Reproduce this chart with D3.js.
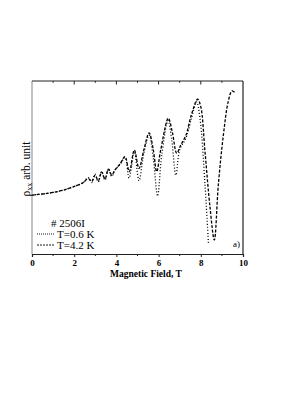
<!DOCTYPE html>
<html>
<head>
<meta charset="utf-8">
<script src="https://cdn.jsdelivr.net/npm/d3@7"></script>
<style>
  body { margin: 0; background: #fff; }
  text { font-family: "Liberation Serif", "DejaVu Serif", serif; fill: #000; }
</style>
</head>
<body>
<script>
// data (field in T, rho_xx in arb. units 0..100)
var fieldHot = [0, 0.5, 1.0, 1.5, 2.0, 2.4, 2.67, 2.83, 2.99, 3.14, 3.30, 3.46, 3.62, 3.78, 3.93, 4.17, 4.41, 4.61, 4.85, 5.07, 5.30, 5.55, 5.75, 5.91, 6.1, 6.46, 6.65, 6.86, 7.05, 7.3, 7.55, 7.85, 8.0, 8.2, 8.44, 8.64, 8.83, 9.07, 9.30, 9.48, 9.65];
var rhoHot = [33.7, 34.3, 35.2, 36.6, 38.7, 40.7, 43.3, 41.6, 45.3, 41.9, 47.1, 43.0, 48.8, 45.3, 48.3, 51.7, 56.0, 47.3, 59.9, 49.2, 59.9, 69.8, 59.9, 47.3, 59.9, 78.3, 70.3, 58.0, 62.8, 68.6, 80.2, 89.4, 85.0, 58.7, 26.2, 7.6, 39.5, 68.6, 88.0, 94.2, 92.8];

var fieldCold = [0, 0.5, 1.0, 1.5, 2.0, 2.4, 2.67, 2.83, 2.99, 3.14, 3.30, 3.46, 3.62, 3.78, 3.93, 4.17, 4.41, 4.60, 4.85, 5.07, 5.30, 5.55, 5.75, 5.95, 6.15, 6.45, 6.62, 6.82, 7.0, 7.3, 7.55, 7.8, 7.96, 8.2, 8.36];
var rhoCold = [33.7, 34.3, 35.2, 36.6, 38.7, 40.7, 43.8, 41.0, 45.8, 41.3, 47.4, 42.4, 49.0, 44.5, 48.3, 51.5, 55.5, 43.6, 59.0, 42.0, 58.0, 68.5, 55.0, 33.1, 57.0, 77.0, 66.0, 45.3, 60.0, 67.0, 78.0, 87.8, 78.5, 39.5, 5.8];

var xTicks = [0, 2, 4, 6, 8, 10];
var legendLabels = ["T=0.6 K", "T=4.2 K"];

var width = 306, height = 396;
var plotLeft = 32, plotRight = 243, plotTop = 81, plotBottom = 254;

var svg = d3.select("body").append("svg")
    .attr("width", width)
    .attr("height", height);

// scales
var x = d3.scaleLinear().domain([0, 10]).range([plotLeft, plotRight]);
var y = d3.scaleLinear().domain([0, 100]).range([253, plotTop]);

var line = d3.line()
    .x(function(d) { return x(d[0]); })
    .y(function(d) { return y(d[1]); })
    .curve(d3.curveCatmullRom.alpha(0.5));

var hot = d3.zip(fieldHot, rhoHot);
var cold = d3.zip(fieldCold, rhoCold);

// curves
svg.append("path").datum(cold)
    .attr("d", line)
    .attr("fill", "none")
    .attr("stroke", "#000")
    .attr("stroke-width", 1.3)
    .attr("stroke-dasharray", "1,2");

svg.append("path").datum(hot)
    .attr("d", line)
    .attr("fill", "none")
    .attr("stroke", "#000")
    .attr("stroke-width", 1.3)
    .attr("stroke-dasharray", "3,1.6");

// frame
svg.append("line").attr("x1", plotLeft).attr("x2", plotLeft).attr("y1", plotTop).attr("y2", plotBottom)
    .attr("stroke", "#999").attr("stroke-width", 1.2);
svg.append("line").attr("x1", plotRight).attr("x2", plotRight).attr("y1", plotTop).attr("y2", plotBottom)
    .attr("stroke", "#222").attr("stroke-width", 1.2);
svg.append("line").attr("x1", plotLeft).attr("x2", plotRight).attr("y1", plotTop).attr("y2", plotTop)
    .attr("stroke", "#222").attr("stroke-width", 1.2);

// bottom axis
var xAxis = svg.append("g")
    .attr("transform", "translate(0," + plotBottom + ")")
    .call(d3.axisBottom(x).tickValues(xTicks).tickSize(3).tickPadding(3).tickFormat(d3.format("d")));
xAxis.select(".domain").attr("stroke", "#222").attr("stroke-width", 1.2);
xAxis.selectAll(".tick line").attr("stroke", "#222");
xAxis.selectAll("text")
    .attr("fill", "#000")
    .style("font-size", "9px")
    .style("font-weight", "bold")
    .style("font-family", "Liberation Serif, serif");

// minor ticks bottom
svg.append("g").selectAll("line").data(d3.range(1, 10, 2)).enter().append("line")
    .attr("x1", function(d) { return x(d); })
    .attr("x2", function(d) { return x(d); })
    .attr("y1", plotBottom)
    .attr("y2", plotBottom + 2)
    .attr("stroke", "#222");

// top ticks, pointing inward
svg.append("g").selectAll("line").data(d3.range(1, 10)).enter().append("line")
    .attr("x1", function(d) { return x(d); })
    .attr("x2", function(d) { return x(d); })
    .attr("y1", plotTop)
    .attr("y2", function(d) { return d % 2 === 0 ? plotTop + 3.5 : plotTop + 1.8; })
    .attr("stroke", "#222");

// axis titles
svg.append("text")
    .attr("x", 146)
    .attr("y", 277)
    .attr("text-anchor", "middle")
    .style("font-size", "9.5px")
    .style("font-weight", "bold")
    .text("Magnetic Field, T");

var ylab = svg.append("text")
    .attr("transform", "translate(29.5,169) rotate(-90)")
    .attr("text-anchor", "middle")
    .style("font-size", "11.5px");
ylab.append("tspan").text("\u03C1");
ylab.append("tspan").attr("dy", 2.5).style("font-size", "8px").text("xx");
ylab.append("tspan").attr("dy", -2.5).text(" arb. unit");

// legend
svg.append("text")
    .attr("x", 51)
    .attr("y", 226.5)
    .style("font-size", "11px")
    .text("# 2506I");

var leg = svg.append("g").selectAll("g").data(legendLabels).enter().append("g")
    .attr("transform", function(d, i) { return "translate(0," + (234 + i * 11) + ")"; });

leg.append("line")
    .attr("x1", 37)
    .attr("x2", 55)
    .attr("stroke", "#000")
    .attr("stroke-width", 0.9)
    .attr("stroke-dasharray", function(d, i) { return i === 0 ? "1,1" : "2,1"; });

leg.append("text")
    .attr("x", 57)
    .attr("y", 3.8)
    .style("font-size", "11px")
    .text(function(d) { return d; });

svg.append("text")
    .attr("x", 233)
    .attr("y", 247)
    .style("font-size", "9px")
    .text("a)");
</script>
</body>
</html>
